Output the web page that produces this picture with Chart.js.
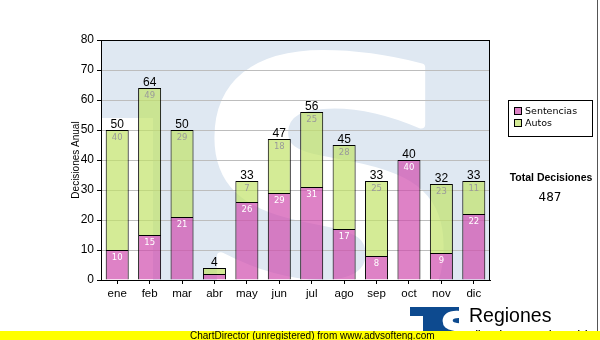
<!DOCTYPE html>
<html>
<head>
<meta charset="utf-8">
<script src="https://cdn.jsdelivr.net/npm/chart.js@4.4.1/dist/chart.umd.min.js"></script>
<style>
  html, body { margin: 0; padding: 0; background: #ffffff; }
  #wrap { width: 600px; height: 340px; position: relative; }
</style>
</head>
<body>
<div id="wrap"><canvas id="chart" width="600" height="340"></canvas></div>
<script>
// Monthly decisions, split by type
const months = ['ene', 'feb', 'mar', 'abr', 'may', 'jun', 'jul', 'ago', 'sep', 'oct', 'nov', 'dic'];
const sentencias = [10, 15, 21, 2, 26, 29, 31, 17, 8, 40, 9, 22];
const autos = [40, 49, 29, 2, 7, 18, 25, 28, 25, 0, 23, 11];
const seriesNames = ['Sentencias', 'Autos'];
const yAxisTitle = 'Decisiones Anual';
const totalTitle = 'Total Decisiones';
const footerText = 'ChartDirector (unregistered) from www.advsofteng.com';
const logoTitle = 'Regiones';
const logoSubtitle = 'Tribunal Supremo de Justicia';

const totals = months.map((_, i) => sentencias[i] + autos[i]);
const grandTotal = totals.reduce((a, b) => a + b, 0);

const PINK = 'rgba(207, 74, 172, 0.69)';
const GREEN = 'rgba(193, 226, 103, 0.69)';
const PALE_BLUE = '#dfe8f2';

// Fill the "S" glyph so its ink covers the given box; "extra" thickens the strokes
function drawFittedS(ctx, font, x0, y0, w, h, color, extra) {
  extra = extra || 0;
  ctx.save();
  ctx.font = font;
  const m = ctx.measureText('S');
  const inkW = m.actualBoundingBoxLeft + m.actualBoundingBoxRight;
  const inkH = m.actualBoundingBoxAscent + m.actualBoundingBoxDescent;
  const sx = (w - extra) / inkW;
  const sy = (h - extra) / inkH;
  ctx.translate(x0 + extra / 2, y0 + extra / 2);
  ctx.scale(sx, sy);
  ctx.fillStyle = color;
  ctx.textAlign = 'left';
  ctx.textBaseline = 'alphabetic';
  ctx.fillText('S', m.actualBoundingBoxLeft, m.actualBoundingBoxAscent);
  if (extra > 0) {
    ctx.strokeStyle = color;
    ctx.lineJoin = 'round';
    ctx.lineWidth = extra / Math.min(sx, sy);
    ctx.strokeText('S', m.actualBoundingBoxLeft, m.actualBoundingBoxAscent);
  }
  ctx.restore();
}

// Plot background with the faint logo watermark
const backdrop = {
  id: 'backdrop',
  beforeDraw(chart) {
    const { ctx, chartArea: a } = chart;
    ctx.save();
    ctx.beginPath();
    ctx.rect(a.left, a.top, a.right - a.left, a.bottom - a.top);
    ctx.clip();
    ctx.fillStyle = PALE_BLUE;
    ctx.fillRect(a.left, a.top, a.right - a.left, a.bottom - a.top);
    ctx.fillStyle = '#ffffff';
    ctx.fillRect(a.left, 118, 52, a.bottom - 118);
    drawFittedS(ctx, 'bold 400px "DejaVu Sans"', 211, 47, 236, 292, '#ffffff', 8);
    ctx.restore();
  }
};

// Value labels inside segments and totals above each stack
const valueLabels = {
  id: 'valueLabels',
  afterDatasetsDraw(chart) {
    const { ctx } = chart;
    const yScale = chart.scales.y;
    ctx.save();
    ctx.textAlign = 'center';
    ctx.textBaseline = 'middle';
    ctx.font = '8.5px "DejaVu Sans"';
    chart.data.datasets.forEach((ds, di) => {
      const meta = chart.getDatasetMeta(di);
      meta.data.forEach((el, i) => {
        const v = ds.data[i];
        const p = el.getProps(['x', 'y', 'base'], true);
        if (v > 0 && p.base - p.y >= 12) {
          ctx.fillStyle = di === 0 ? '#ffffff' : '#9a9a9a';
          ctx.fillText(String(v), p.x, p.y + 8);
        }
      });
    });
    ctx.font = '12px "Liberation Sans"';
    ctx.fillStyle = '#000000';
    ctx.textBaseline = 'alphabetic';
    const meta0 = chart.getDatasetMeta(0);
    totals.forEach((t, i) => {
      const x = meta0.data[i].x;
      ctx.fillText(String(t), x, yScale.getPixelForValue(t) - 2);
    });
    ctx.restore();
  }
};

// Frame, axis title, legend, total box, footer and logo
const decorations = {
  id: 'decorations',
  afterDraw(chart) {
    const { ctx, chartArea: a } = chart;
    ctx.save();
    // plot frame
    ctx.strokeStyle = '#000000';
    ctx.lineWidth = 1;
    ctx.strokeRect(a.left + 0.5, a.top + 0.5, a.right - a.left - 1, a.bottom - a.top);

    // y axis title
    ctx.save();
    ctx.translate(76, (a.top + a.bottom) / 2);
    ctx.rotate(-Math.PI / 2);
    ctx.font = '10px "Liberation Sans"';
    ctx.fillStyle = '#000000';
    ctx.textAlign = 'center';
    ctx.textBaseline = 'middle';
    ctx.fillText(yAxisTitle, 0, 0);
    ctx.restore();

    // legend
    ctx.strokeStyle = '#000000';
    ctx.strokeRect(508.5, 100.5, 84, 36);
    const colors = [PINK, GREEN];
    ctx.font = '9.5px "DejaVu Sans"';
    ctx.textAlign = 'left';
    ctx.textBaseline = 'middle';
    seriesNames.forEach((name, i) => {
      const y = 107 + i * 12;
      ctx.fillStyle = '#ffffff';
      ctx.fillRect(514, y, 8, 8);
      ctx.fillStyle = colors[i];
      ctx.fillRect(514, y, 8, 8);
      ctx.strokeStyle = '#000000';
      ctx.strokeRect(514.5, y + 0.5, 7, 7);
      ctx.fillStyle = '#000000';
      ctx.fillText(name, 525, y + 4.5);
    });

    // total
    ctx.textAlign = 'center';
    ctx.textBaseline = 'alphabetic';
    ctx.font = 'bold 10.5px "Liberation Sans"';
    ctx.fillText(totalTitle, 551, 181);
    ctx.font = '12px "DejaVu Sans"';
    ctx.fillText(String(grandTotal), 550, 201);

    // right edge rule
    ctx.strokeStyle = '#555555';
    ctx.beginPath();
    ctx.moveTo(597.5, 0);
    ctx.lineTo(597.5, 331);
    ctx.stroke();

    // logo
    ctx.fillStyle = '#0d4a8f';
    ctx.fillRect(410, 307, 49, 26);
    ctx.fillStyle = '#ffffff';
    ctx.fillRect(410, 316, 13, 20);
    ctx.save();
    ctx.beginPath();
    ctx.rect(423, 309, 36, 30);
    ctx.clip();
    drawFittedS(ctx, 'bold 60px "DejaVu Sans"', 425, 310, 30, 34, '#ffffff', 1.5);
    ctx.restore();
    ctx.fillStyle = '#000000';
    ctx.textAlign = 'left';
    ctx.font = '19.5px "Liberation Sans"';
    ctx.fillText(logoTitle, 469, 322);
    ctx.font = 'bold 9px "Liberation Sans"';
    ctx.fillText(logoSubtitle, 467, 337);

    // footer band
    ctx.fillStyle = '#ffff00';
    ctx.fillRect(0, 331, 600, 9);
    ctx.fillStyle = '#000000';
    ctx.font = '10px "Liberation Sans"';
    ctx.textAlign = 'left';
    ctx.fillText(footerText, 190, 339);
    ctx.restore();
  }
};

new Chart(document.getElementById('chart'), {
  type: 'bar',
  data: {
    labels: months,
    datasets: [
      { label: seriesNames[0], data: sentencias, backgroundColor: PINK, borderColor: '#000000', borderWidth: 1 },
      { label: seriesNames[1], data: autos, backgroundColor: GREEN, borderColor: '#000000', borderWidth: 1 }
    ]
  },
  options: {
    responsive: false,
    animation: false,
    devicePixelRatio: 1,
    layout: { padding: { left: 0, right: 110, top: 40, bottom: 0 } },
    categoryPercentage: 1,
    barPercentage: 0.71,
    plugins: { legend: { display: false }, tooltip: { enabled: false }, title: { display: false } },
    scales: {
      x: {
        stacked: true,
        afterFit(s) { s.height = 60; },
        grid: { offset: false, drawOnChartArea: false, drawTicks: true, tickLength: 4, tickColor: '#000000', color: '#000000' },
        border: { display: true, color: '#000000', width: 1 },
        ticks: { color: '#000000', padding: 3, font: { family: 'Liberation Sans', size: 11.5 } }
      },
      y: {
        stacked: true,
        min: 0,
        max: 80,
        afterFit(s) { s.width = 101; },
        grid: { color: '#bdbdbd', tickColor: '#000000', tickLength: 4, drawTicks: true },
        border: { display: true, color: '#000000', width: 1 },
        ticks: { stepSize: 10, color: '#000000', padding: 3, font: { family: 'Liberation Sans', size: 12 } }
      }
    }
  },
  plugins: [backdrop, valueLabels, decorations]
});
</script>
</body>
</html>
